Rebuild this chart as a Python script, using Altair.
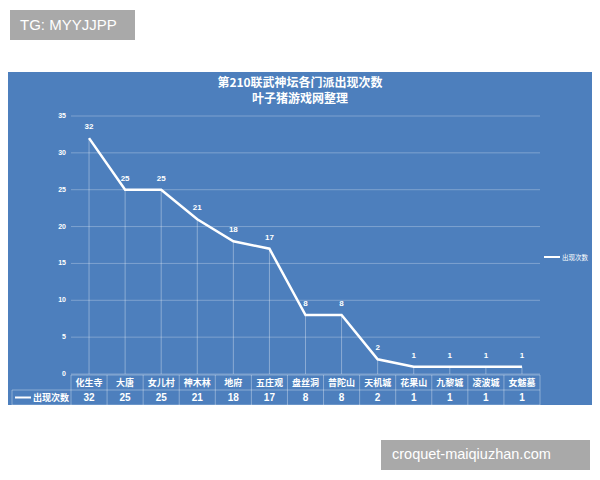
import altair as alt
import pandas as pd

cats = ["化生寺", "大唐", "女儿村", "神木林", "地府", "五庄观", "盘丝洞", "普陀山",
        "天机城", "花果山", "九黎城", "凌波城", "女魃墓"]
counts = [32, 25, 25, 21, 18, 17, 8, 8, 2, 1, 1, 1, 1]
y_ticks = [0, 5, 10, 15, 20, 25, 30, 35]
series_name = "出现次数"
title_lines = ["第210联武神坛各门派出现次数", "叶子猪游戏网整理"]
tag_texts = ["TG: MYYJJPP", "croquet-maiqiuzhan.com"]

df = pd.DataFrame({"门派": cats, "次数": counts})
ticks_df = pd.DataFrame({"次数": y_ticks})
one = pd.DataFrame({"k": [0]})

BLUE = "#4d7fbd"
GRID = "rgba(255,255,255,0.28)"
TB = "rgba(255,255,255,0.35)"
CJK = "Noto Sans CJK SC"
W, H = 469, 258

band = alt.Scale(type="band", paddingInner=0, paddingOuter=0)
xenc = alt.X("门派:N", sort=cats, scale=band, axis=None)
yenc = alt.Y("次数:Q", scale=alt.Scale(domain=[0, 35], nice=False), axis=None)


def prect(x1, x2, y1, y2, color):
    return alt.Chart(one).mark_rect(color=color).encode(
        x=alt.value(x1), x2=alt.value(x2), y=alt.value(y1), y2=alt.value(y2))


def phrule(x1, x2, y, color, w=1):
    return alt.Chart(one).mark_rule(color=color, strokeWidth=w).encode(
        x=alt.value(x1), x2=alt.value(x2), y=alt.value(y))


def pvrule(x, y1, y2, color, w=1):
    return alt.Chart(one).mark_rule(color=color, strokeWidth=w).encode(
        x=alt.value(x), y=alt.value(y1), y2=alt.value(y2))


def ptext(txt, x, y, **kw):
    return alt.Chart(pd.DataFrame({"t": [txt]})).mark_text(color="white", **kw).encode(
        x=alt.value(x), y=alt.value(y), text="t:N")


layers = []
# background panel
layers.append(prect(-63, 529, -44, 289, BLUE))

# grid lines
layers.append(alt.Chart(ticks_df).mark_rule(color=GRID, strokeWidth=1).encode(
    y=yenc, x=alt.value(0), x2=alt.value(W)))

# y tick labels
layers.append(alt.Chart(ticks_df).mark_text(color="white", fontSize=7, align="right",
                                            font="Liberation Sans", fontWeight="bold").encode(
    y=yenc, x=alt.value(-5), text="次数:Q"))

# drop lines
layers.append(alt.Chart(df).mark_rule(color="white", opacity=0.35, strokeWidth=1).encode(
    x=xenc, y=yenc, y2=alt.datum(0)))

# line
layers.append(alt.Chart(df).mark_line(color="white", strokeWidth=2.5).encode(
    x=xenc, y=yenc))

# data labels
layers.append(alt.Chart(df).mark_text(color="white", fontSize=8, dy=-11,
                                      font="Liberation Sans", fontWeight="bold").encode(
    x=xenc, y=yenc, text="次数:Q"))

# data table
layers.append(phrule(0, W, 259, TB))
layers.append(phrule(-59, W, 274, TB))
layers.append(phrule(-59, W, 289, TB))
layers.append(alt.Chart(df).mark_rule(color=TB, strokeWidth=1).encode(
    x=alt.X("门派:N", sort=cats, bandPosition=0, scale=band, axis=None),
    y=alt.value(259), y2=alt.value(289)))
layers.append(pvrule(W, 259, 289, TB))
layers.append(pvrule(-59, 274, 289, TB))
layers.append(alt.Chart(df).mark_text(color="white", fontSize=9, font=CJK,
                                      fontWeight="bold").encode(
    x=xenc, y=alt.value(267), text="门派:N"))
layers.append(alt.Chart(df).mark_text(color="white", fontSize=10, font="Liberation Sans",
                                      fontWeight="bold").encode(
    x=xenc, y=alt.value(282), text="次数:Q"))
layers.append(phrule(-56, -40, 281.5, "white", 2))
layers.append(ptext(series_name, -38, 282, fontSize=9, font=CJK, fontWeight="bold",
                    align="left"))

# legend
layers.append(phrule(473, 489, 141, "white", 2))
layers.append(ptext(series_name, 491, 141.5, fontSize=6.5, font=CJK, align="left"))

# title
layers.append(ptext(title_lines[0], 229, -33.5, fontSize=12, font=CJK, fontWeight="bold"))
layers.append(ptext(title_lines[1], 229, -17.5, fontSize=12, font=CJK, fontWeight="bold"))

# gray tags
layers.append(prect(-61, 64, -106, -76, "#a9a9a9"))
layers.append(ptext(tag_texts[0], -51, -91, fontSize=15, font="Liberation Sans",
                    align="left", baseline="middle"))
layers.append(prect(310, 519, 324, 354, "#a9a9a9"))
layers.append(ptext(tag_texts[1], 321, 339, fontSize=14.5, font="Liberation Sans",
                    align="left", baseline="middle"))

chart = alt.layer(*layers).properties(
    width=W, height=H,
    autosize=alt.AutoSizeParams(type="none"),
    padding={"left": 63, "top": 108, "right": 52, "bottom": 96},
    background="white",
).configure_view(stroke=None)

chart.save("out.html", embed_options={"renderer": "svg", "actions": False})
